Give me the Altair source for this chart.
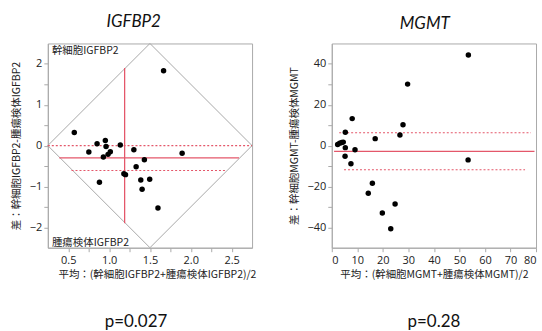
import altair as alt
import pandas as pd

# ---- data ----
ig_mean = [1.667, 0.574, 0.954, 0.853, 0.963, 1.137, 0.752, 1.015, 0.987, 0.930, 1.303,
           1.894, 1.432, 1.331, 1.181, 1.201, 1.388, 1.497, 1.404, 0.882, 1.598]
ig_diff = [1.833, 0.321, 0.126, 0.045, -0.020, 0.012, -0.159, -0.150, -0.215, -0.280, -0.100,
           -0.190, -0.345, -0.516, -0.687, -0.711, -0.841, -0.825, -1.069, -0.898, -1.530]

mg_mean = [53.5, 29.7, 8.0, 27.9, 5.3, 26.7, 17.0, 2.3, 3.1, 3.9, 4.5,
           5.3, 9.1, 5.2, 7.5, 53.4, 15.9, 14.3, 24.8, 19.8, 23.1]
mg_diff = [44.4, 30.1, 13.2, 10.2, 6.5, 5.2, 3.4, 0.5, 1.2, 1.5, 1.7,
           -1.0, -2.0, -5.2, -8.9, -7.0, -18.4, -23.3, -28.6, -33.0, -40.7]

# diamond (limits of agreement region) for IGFBP2 panel
diamond_x = [0.25, 1.5, 2.75, 1.5, 0.25]
diamond_y = [0.0, 2.5, 0.0, -2.5, 0.0]

# reference lines: (x1, x2, y, style)
ig_hlines = [(0.39, 2.59, -0.30, "solid"), (0.25, 2.75, 0.0, "dot"), (0.54, 2.44, -0.61, "dot")]
ig_vline = (1.19, -1.9, 1.9)
mg_hlines = [(0.9, 79.4, -2.8, "solid"), (2.9, 78.0, 6.3, "dot"), (4.8, 75.7, -11.8, "dot")]

ig_corner_labels = ["幹細胞IGFBP2", "腫瘍検体IGFBP2"]
ig_corner_x = [0.30, 0.30]
ig_corner_y = [2.32, -2.39]

# axis tick values
ig_x_major = [0.5, 1.0, 1.5, 2.0, 2.5]
ig_x_minor = [0.75, 1.25, 1.75, 2.25]
ig_y_major = [-2, -1, 0, 1, 2]
ig_y_minor = [-1.5, -0.5, 0.5, 1.5]
mg_x_major = [0, 10, 20, 30, 40, 50, 60, 70, 80]
mg_y_major = [-40, -20, 0, 20, 40]
mg_y_minor = [-30, -10, 10, 30]

titles = ["IGFBP2", "MGMT"]
pvals = ["p=0.027", "p=0.28"]

RED = "#e4576a"
GRAY = "#aaaaaa"
CJK = "Noto Sans CJK JP"
W = H = 205


def axis(title, values, fmt, tpad, lpad, orient, **kw):
    return alt.Axis(title=title, values=values, format=fmt, grid=False, orient=orient,
                    domainColor=GRAY, tickColor=GRAY, tickSize=4,
                    labelFont="Open Sans", labelFontSize=11, labelColor="#222222",
                    titleFont=CJK, titleFontSize=10.5, titleFontWeight="normal",
                    titleColor="#222222", titlePadding=tpad, labelPadding=lpad, **kw)


def minor_axis(values, orient):
    return alt.Axis(title=None, values=values, labels=False, domain=False, grid=False,
                    tickColor=GRAY, tickSize=4, orient=orient)


def hlines_layers(spec, xdom, ydom, xminor, yminor):
    df = pd.DataFrame(spec, columns=["x1", "x2", "y", "style"])
    xkw = {"axis": minor_axis(xminor, "bottom")} if xminor else {"axis": None}
    ykw = {"axis": minor_axis(yminor, "left")} if yminor else {"axis": None}
    dot = alt.Chart(df[df["style"] == "dot"]).mark_rule(color=RED, strokeWidth=1.1, strokeDash=[2, 2]).encode(
        x=alt.X("x1:Q", scale=alt.Scale(domain=xdom), **xkw), x2="x2:Q",
        y=alt.Y("y:Q", scale=alt.Scale(domain=ydom), **ykw))
    solid = alt.Chart(df[df["style"] == "solid"]).mark_rule(color=RED, strokeWidth=1.3).encode(
        x=alt.X("x1:Q", scale=alt.Scale(domain=xdom), axis=None), x2="x2:Q",
        y=alt.Y("y:Q", scale=alt.Scale(domain=ydom), axis=None))
    return [dot, solid]


# ---------- IGFBP2 panel ----------
ig_xdom = [0.25, 2.75]
ig_ydom = [-2.5, 2.5]
ig_df = pd.DataFrame({"m": ig_mean, "d": ig_diff})
ig_x_axis = axis("平均：(幹細胞IGFBP2+腫瘍検体IGFBP2)/2", ig_x_major, ".1f", 4, 3, "bottom", titleX=W / 2 + 7)
ig_y_axis = axis("差：幹細胞IGFBP2-腫瘍検体IGFBP2", ig_y_major, "d", 8, 2, "left")

ig_points = alt.Chart(ig_df).mark_circle(color="black", opacity=1, size=30).encode(
    x=alt.X("m:Q", scale=alt.Scale(domain=ig_xdom), axis=ig_x_axis),
    y=alt.Y("d:Q", scale=alt.Scale(domain=ig_ydom), axis=ig_y_axis))

ig_diamond = alt.Chart(pd.DataFrame({"x": diamond_x, "y": diamond_y, "o": range(5)})).mark_line(
    color="#a8a8a8", strokeWidth=1).encode(
    x=alt.X("x:Q", scale=alt.Scale(domain=ig_xdom), axis=None),
    y=alt.Y("y:Q", scale=alt.Scale(domain=ig_ydom), axis=None), order="o:Q")

ig_v = alt.Chart(pd.DataFrame({"x": [ig_vline[0]], "y1": [ig_vline[1]], "y2": [ig_vline[2]]})).mark_rule(
    color=RED, strokeWidth=1.3).encode(
    x=alt.X("x:Q", scale=alt.Scale(domain=ig_xdom), axis=None),
    y=alt.Y("y1:Q", scale=alt.Scale(domain=ig_ydom), axis=None), y2="y2:Q")

ig_text = alt.Chart(pd.DataFrame({"t": ig_corner_labels, "x": ig_corner_x, "y": ig_corner_y})).mark_text(
    align="left", baseline="middle", font=CJK, fontSize=10.5, color="#222222").encode(
    x=alt.X("x:Q", scale=alt.Scale(domain=ig_xdom), axis=None),
    y=alt.Y("y:Q", scale=alt.Scale(domain=ig_ydom), axis=None), text="t:N")

ig_panel = alt.layer(
    ig_diamond, *hlines_layers(ig_hlines, ig_xdom, ig_ydom, ig_x_minor, ig_y_minor), ig_v, ig_points, ig_text
).resolve_axis(x="independent", y="independent").properties(
    width=W, height=H,
    title=alt.TitleParams(pvals[0], orient="bottom", font="Lato", fontSize=17, fontWeight="normal",
                          color="#111111", offset=34, anchor="middle", dx=-14))

# ---------- MGMT panel ----------
mg_xdom = [0, 80]
mg_ydom = [-50, 50]
mg_df = pd.DataFrame({"m": mg_mean, "d": mg_diff})
mg_x_axis = axis("平均：(幹細胞MGMT+腫瘍検体MGMT)/2", mg_x_major, "d", 4, 3, "bottom")
mg_y_axis = axis("差：幹細胞MGMT-腫瘍検体MGMT", mg_y_major, "d", 8, 2, "left")

mg_points = alt.Chart(mg_df).mark_circle(color="black", opacity=1, size=30).encode(
    x=alt.X("m:Q", scale=alt.Scale(domain=mg_xdom), axis=mg_x_axis),
    y=alt.Y("d:Q", scale=alt.Scale(domain=mg_ydom), axis=mg_y_axis))

mg_panel = alt.layer(
    *hlines_layers(mg_hlines, mg_xdom, mg_ydom, None, mg_y_minor), mg_points
).resolve_axis(x="independent", y="independent").properties(
    width=W, height=H,
    title=alt.TitleParams(pvals[1], orient="bottom", font="Lato", fontSize=17, fontWeight="normal",
                          color="#111111", offset=34, anchor="middle"))


def top(panel, t, dx):
    return alt.vconcat(panel, title=alt.TitleParams(t, font="Lato", fontSize=17, fontStyle="italic",
                                                    fontWeight="normal", color="#111111",
                                                    anchor="middle", offset=10, dx=dx))


chart = alt.hconcat(top(ig_panel, titles[0], 0), top(mg_panel, titles[1], 12), spacing=31).properties(
    padding={"left": 10, "top": 12, "right": 5, "bottom": 5}
).configure_view(stroke=GRAY, strokeWidth=1)

chart.save("out.html", embed_options={"renderer": "svg", "actions": False})
